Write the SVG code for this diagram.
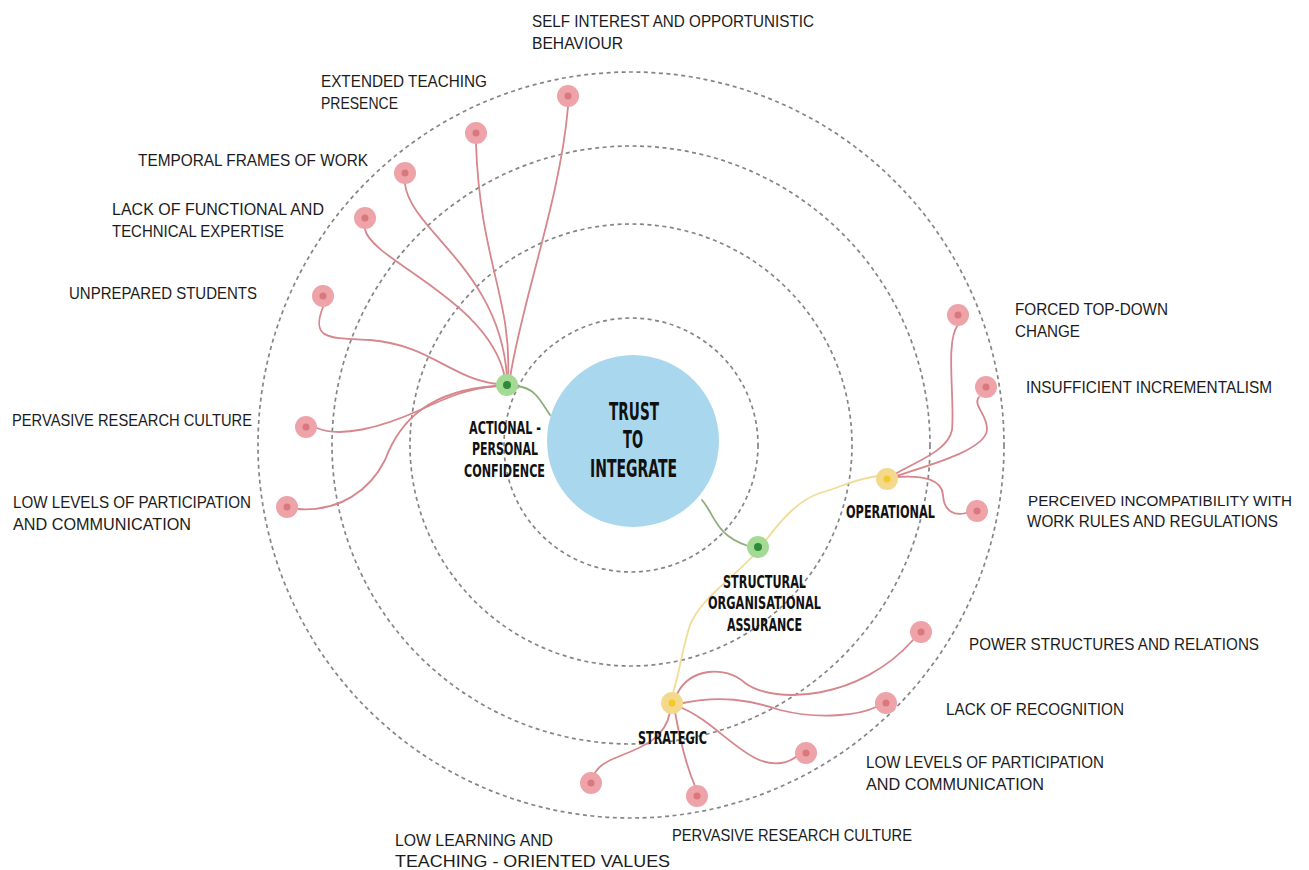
<svg xmlns="http://www.w3.org/2000/svg" width="1309" height="870" viewBox="0 0 1309 870">
<style>
.ring{fill:none;stroke:#858585;stroke-width:1.7;stroke-dasharray:4 3.5}
.c{fill:none;stroke-width:1.8;stroke-linecap:round}
.r{stroke:#d6868c}
.g{stroke:#8fae7c}
.y{stroke:#f1dc96}
.ro{fill:#eda3a8}
.ri{fill:#d9787f}
.go{fill:#a5da95}
.gi{fill:#2f8a3c}
.yo{fill:#f4d98d}
.yi{fill:#f2c925}
.lbl{font-family:"Liberation Sans",Arial,sans-serif;font-size:17px;fill:#1b1b1b}
.sm{font-size:15.5px}
.bl{font-family:"DejaVu Sans Condensed","Liberation Sans",Arial,sans-serif;font-weight:bold;font-size:17.5px;fill:#111;text-anchor:middle}
.big{font-family:"DejaVu Sans Condensed","Liberation Sans",Arial,sans-serif;font-weight:bold;font-size:24px;fill:#111;text-anchor:middle}
</style>
<rect width="1309" height="870" fill="#fff"/>
<g id="rings">
<circle class="ring" cx="631" cy="445" r="127"/>
<circle class="ring" cx="631" cy="445" r="221"/>
<circle class="ring" cx="631" cy="445" r="299"/>
<circle class="ring" cx="631" cy="445" r="373"/>
</g>
<g id="connectors">
<path class="c g" d="M517 386 C535 388 540 400 550 415"/>
<path class="c g" d="M702 500 C715 515 715 535 748 546"/>
<path class="c y" d="M766 540 C785 515 800 500 820 493 C840 488 850 480 878 476"/>
<path class="c y" d="M753 556 C730 580 700 600 690 625 C682 650 680 670 673 693"/>
<path class="c r" d="M568 107 C560 200 522 300 510 378"/>
<path class="c r" d="M476 144 C480 260 512 300 508 377"/>
<path class="c r" d="M405 184 C410 230 500 270 507 377"/>
<path class="c r" d="M365 229 C370 260 490 300 505 378"/>
<path class="c r" d="M323 307 C310 340 330 338 370 340 C430 345 450 378 497 384"/>
<path class="c r" d="M317 428 C340 438 380 428 420 410 C450 396 470 388 497 386"/>
<path class="c r" d="M298 509 C340 512 370 490 385 460 C400 420 430 390 497 386"/>
<path class="c r" d="M895 474 C920 460 948 450 952 430 C955 400 945 340 958 325"/>
<path class="c r" d="M896 476 C930 465 985 450 987 430 C988 415 972 405 979 397"/>
<path class="c r" d="M896 477 C925 475 942 480 943 495 C944 512 955 516 966 513"/>
<path class="c r" d="M677 694 C690 668 725 665 745 683 C775 705 860 700 913 640"/>
<path class="c r" d="M683 703 C720 695 750 700 780 710 C820 720 860 715 876 707"/>
<path class="c r" d="M682 708 C710 720 730 745 755 758 C775 768 790 762 797 756"/>
<path class="c r" d="M675 712 C680 740 688 770 695 786"/>
<path class="c r" d="M670 712 C665 740 640 748 615 758 C600 764 596 770 594 775"/>
</g>
<g id="center">
<circle cx="633" cy="441" r="86" fill="#a9d8ee"/>
<text class="big" x="634" y="420" textLength="50" lengthAdjust="spacingAndGlyphs">TRUST</text>
<text class="big" x="633" y="448" textLength="20" lengthAdjust="spacingAndGlyphs">TO</text>
<text class="big" x="633.5" y="477" textLength="87" lengthAdjust="spacingAndGlyphs">INTEGRATE</text>
</g>
<g id="actional">
<circle class="go" cx="507" cy="385" r="11"/><circle class="gi" cx="507" cy="385" r="4"/>
<text class="bl" x="505" y="434" textLength="72" lengthAdjust="spacingAndGlyphs">ACTIONAL -</text>
<text class="bl" x="505" y="455" textLength="66" lengthAdjust="spacingAndGlyphs">PERSONAL</text>
<text class="bl" x="504.5" y="477" textLength="81" lengthAdjust="spacingAndGlyphs">CONFIDENCE</text>
</g>
<g id="structural">
<circle class="go" cx="758" cy="547" r="11"/><circle class="gi" cx="758" cy="547" r="4"/>
<text class="bl" x="764.5" y="588" textLength="83" lengthAdjust="spacingAndGlyphs">STRUCTURAL</text>
<text class="bl" x="764.5" y="609" textLength="113" lengthAdjust="spacingAndGlyphs">ORGANISATIONAL</text>
<text class="bl" x="764.5" y="631" textLength="75" lengthAdjust="spacingAndGlyphs">ASSURANCE</text>
</g>
<g id="operational">
<circle class="yo" cx="887" cy="479" r="11"/><circle class="yi" cx="887" cy="479" r="3.5"/>
<text class="bl" x="890.5" y="518" textLength="89" lengthAdjust="spacingAndGlyphs">OPERATIONAL</text>
</g>
<g id="strategic">
<circle class="yo" cx="672" cy="703" r="11"/><circle class="yi" cx="672" cy="703" r="3.5"/>
<text class="bl" x="672.5" y="744" textLength="69" lengthAdjust="spacingAndGlyphs">STRATEGIC</text>
</g>
<g id="self-interest">
<circle class="ro" cx="568" cy="96" r="11"/><circle class="ri" cx="568" cy="96" r="3.5"/>
<text class="lbl" x="532" y="27" textLength="282" lengthAdjust="spacingAndGlyphs">SELF INTEREST AND OPPORTUNISTIC</text>
<text class="lbl" x="532" y="49" textLength="91" lengthAdjust="spacingAndGlyphs">BEHAVIOUR</text>
</g>
<g id="extended-teaching">
<circle class="ro" cx="476" cy="133" r="11"/><circle class="ri" cx="476" cy="133" r="3.5"/>
<text class="lbl" x="321" y="87" textLength="166" lengthAdjust="spacingAndGlyphs">EXTENDED TEACHING</text>
<text class="lbl" x="321" y="109" textLength="77" lengthAdjust="spacingAndGlyphs">PRESENCE</text>
</g>
<g id="temporal">
<circle class="ro" cx="405" cy="173" r="11"/><circle class="ri" cx="405" cy="173" r="3.5"/>
<text class="lbl" x="138" y="166" textLength="230" lengthAdjust="spacingAndGlyphs">TEMPORAL FRAMES OF WORK</text>
</g>
<g id="lack-functional">
<circle class="ro" cx="365" cy="218" r="11"/><circle class="ri" cx="365" cy="218" r="3.5"/>
<text class="lbl" x="112" y="215" textLength="212" lengthAdjust="spacingAndGlyphs">LACK OF FUNCTIONAL AND</text>
<text class="lbl" x="112" y="237" textLength="172" lengthAdjust="spacingAndGlyphs">TECHNICAL EXPERTISE</text>
</g>
<g id="unprepared">
<circle class="ro" cx="323" cy="296" r="11"/><circle class="ri" cx="323" cy="296" r="3.5"/>
<text class="lbl" x="69" y="299" textLength="188" lengthAdjust="spacingAndGlyphs">UNPREPARED STUDENTS</text>
</g>
<g id="pervasive-left">
<circle class="ro" cx="306" cy="427" r="11"/><circle class="ri" cx="306" cy="427" r="3.5"/>
<text class="lbl" x="12" y="426" textLength="240" lengthAdjust="spacingAndGlyphs">PERVASIVE RESEARCH CULTURE</text>
</g>
<g id="low-levels-left">
<circle class="ro" cx="287" cy="507" r="11"/><circle class="ri" cx="287" cy="507" r="3.5"/>
<text class="lbl" x="13" y="508" textLength="238" lengthAdjust="spacingAndGlyphs">LOW LEVELS OF PARTICIPATION</text>
<text class="lbl" x="13" y="530" textLength="178" lengthAdjust="spacingAndGlyphs">AND COMMUNICATION</text>
</g>
<g id="forced">
<circle class="ro" cx="958" cy="315" r="11"/><circle class="ri" cx="958" cy="315" r="3.5"/>
<text class="lbl" x="1015" y="315" textLength="153" lengthAdjust="spacingAndGlyphs">FORCED TOP-DOWN</text>
<text class="lbl" x="1015" y="337" textLength="65" lengthAdjust="spacingAndGlyphs">CHANGE</text>
</g>
<g id="insufficient">
<circle class="ro" cx="986" cy="387" r="11"/><circle class="ri" cx="986" cy="387" r="3.5"/>
<text class="lbl" x="1026" y="393" textLength="246" lengthAdjust="spacingAndGlyphs">INSUFFICIENT INCREMENTALISM</text>
</g>
<g id="perceived">
<circle class="ro" cx="977" cy="511" r="11"/><circle class="ri" cx="977" cy="511" r="3.5"/>
<text class="lbl sm" x="1028" y="506" textLength="264" lengthAdjust="spacingAndGlyphs">PERCEIVED INCOMPATIBILITY WITH</text>
<text class="lbl" x="1027" y="527" textLength="251" lengthAdjust="spacingAndGlyphs">WORK RULES AND REGULATIONS</text>
</g>
<g id="power">
<circle class="ro" cx="921" cy="632" r="11"/><circle class="ri" cx="921" cy="632" r="3.5"/>
<text class="lbl" x="969" y="650" textLength="290" lengthAdjust="spacingAndGlyphs">POWER STRUCTURES AND RELATIONS</text>
</g>
<g id="recognition">
<circle class="ro" cx="886" cy="703" r="11"/><circle class="ri" cx="886" cy="703" r="3.5"/>
<text class="lbl" x="946" y="715" textLength="178" lengthAdjust="spacingAndGlyphs">LACK OF RECOGNITION</text>
</g>
<g id="low-levels-right">
<circle class="ro" cx="806" cy="753" r="11"/><circle class="ri" cx="806" cy="753" r="3.5"/>
<text class="lbl" x="866" y="768" textLength="238" lengthAdjust="spacingAndGlyphs">LOW LEVELS OF PARTICIPATION</text>
<text class="lbl" x="866" y="790" textLength="178" lengthAdjust="spacingAndGlyphs">AND COMMUNICATION</text>
</g>
<g id="pervasive-bottom">
<circle class="ro" cx="697" cy="796" r="11"/><circle class="ri" cx="697" cy="796" r="3.5"/>
<text class="lbl" x="672" y="841" textLength="240" lengthAdjust="spacingAndGlyphs">PERVASIVE RESEARCH CULTURE</text>
</g>
<g id="low-learning">
<circle class="ro" cx="591" cy="783" r="11"/><circle class="ri" cx="591" cy="783" r="3.5"/>
<text class="lbl" x="395" y="846" textLength="158" lengthAdjust="spacingAndGlyphs">LOW LEARNING AND</text>
<text class="lbl" x="395" y="867" textLength="275" lengthAdjust="spacingAndGlyphs">TEACHING - ORIENTED VALUES</text>
</g>
</svg>
